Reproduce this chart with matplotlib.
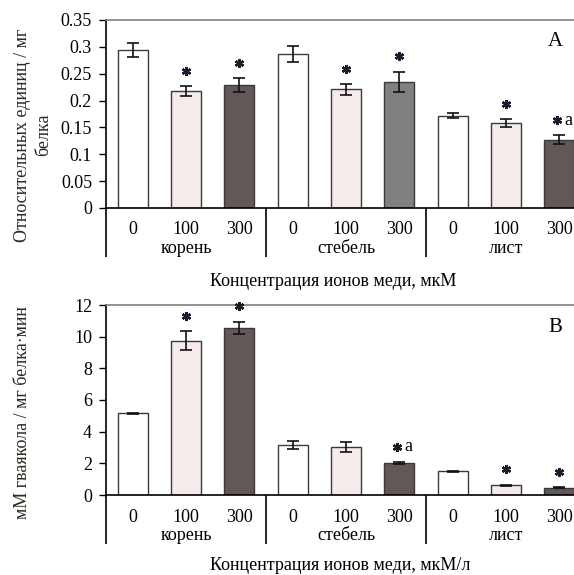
import matplotlib
matplotlib.use("Agg")
import matplotlib.pyplot as plt
import matplotlib.transforms as mtransforms
import numpy as np

plt.rcParams['font.family'] = ['Liberation Serif', 'DejaVu Serif']

# ---------------- data ----------------
conc_labels = ["0", "100", "300"] * 3
organs = ["корень", "стебель", "лист"]

top_values = [0.294, 0.218, 0.229, 0.286, 0.221, 0.235, 0.172, 0.158, 0.127]
top_errors = [0.013, 0.009, 0.013, 0.015, 0.010, 0.019, 0.005, 0.008, 0.008]
top_marks = ["", "*", "*", "", "*", "*", "", "*", "*a"]

bot_values = [5.15, 9.75, 10.57, 3.16, 3.01, 2.02, 1.50, 0.61, 0.46]
bot_errors = [0.05, 0.60, 0.38, 0.28, 0.32, 0.05, 0.03, 0.04, 0.03]
bot_marks = ["", "*", "*", "", "", "*a", "", "*", "*"]

c_white = "#ffffff"
c_pink = "#f5ebea"
c_dark = "#615857"
c_gray = "#808080"
top_colors = [c_white, c_pink, c_dark, c_white, c_pink, c_gray, c_white, c_pink, c_dark]
bot_colors = [c_white, c_pink, c_dark, c_white, c_pink, c_dark, c_white, c_pink, c_dark]

top_ticks = [0, 0.05, 0.1, 0.15, 0.2, 0.25, 0.3, 0.35]
top_ticklabels = ["0", "0.05", "0.1", "0.15", "0.2", "0.25", "0.3", "0.35"]
bot_ticks = [0, 2, 4, 6, 8, 10, 12]
bot_ticklabels = ["0", "2", "4", "6", "8", "10", "12"]

W, H = 574, 575
fig = plt.figure(figsize=(W / 100, H / 100), dpi=100)
FS = 13


def panel(rect, values, errors, colors, marks, ticks, ticklabels, ymax, letter,
          letter_y, xtitle, xtitle_x, xtitle_y, px_h):
    ax = fig.add_axes(rect)
    x = np.arange(len(values))
    ax.bar(x, values, width=0.56, color=colors, edgecolor="#3a3a3a",
           linewidth=1.0, zorder=2)
    ax.errorbar(x, values, yerr=errors, fmt="none", ecolor="#111111",
                elinewidth=1.2, capsize=4, capthick=1.2, zorder=3)
    ax.set_xlim(-0.5, len(values) - 0.5)
    ax.set_ylim(0, ymax)
    ax.set_yticks(ticks)
    ax.set_yticklabels(ticklabels, fontsize=FS)
    ax.tick_params(axis="y", direction="out", length=5, width=1.0, pad=5)
    ax.set_xticks([])
    ax.spines["right"].set_visible(False)
    ax.spines["top"].set_color("#808080")
    ax.spines["top"].set_linewidth(1.2)
    ax.spines["left"].set_linewidth(1.2)
    ax.spines["bottom"].set_linewidth(1.2)

    trans = mtransforms.blended_transform_factory(ax.transData, ax.transAxes)
    for i, lab in enumerate(conc_labels):
        ax.text(i, -22 / px_h, lab, transform=trans, ha="center", va="center",
                fontsize=FS)
    for g, name in enumerate(organs):
        ax.text(3 * g + 1, -40.5 / px_h, name, transform=trans, ha="center",
                va="center", fontsize=FS)
    for xb in [-0.5, 2.5, 5.5]:
        ax.plot([xb, xb], [0, -49 / px_h], transform=trans, color="black",
                lw=1.2, clip_on=False, solid_capstyle="butt")
    for i, m in enumerate(marks):
        if not m:
            continue
        ytop = values[i] + errors[i]
        dx = -1.5 if "a" in m else 0
        off = mtransforms.ScaledTranslation(dx / 72, 11 / 72, fig.dpi_scale_trans)
        ax.plot([i], [ytop], marker=(6, 2, 0), ms=6.5, mew=1.7, color="#1a1a2a",
                transform=ax.transData + off, clip_on=False, zorder=4)
        if "a" in m:
            ax.annotate("a", xy=(i, ytop), xytext=(3.5, 11),
                        textcoords="offset points", ha="left", va="center",
                        fontsize=FS, annotation_clip=False)
    fig.text(555 / W, 1 - letter_y / H, letter, fontsize=15, ha="center",
             va="center")
    fig.text(xtitle_x / W, 1 - xtitle_y / H, xtitle, fontsize=FS, ha="center",
             va="center")
    return ax


top_rect = [106 / W, 1 - 208 / H, 480 / W, 188 / H]
bot_rect = [106 / W, 1 - 495 / H, 480 / W, 190 / H]

panel(top_rect, top_values, top_errors, top_colors, top_marks, top_ticks,
      top_ticklabels, 0.35, "A", 42, "Концентрация ионов меди, мкМ", 333, 282,
      188)
panel(bot_rect, bot_values, bot_errors, bot_colors, bot_marks, bot_ticks,
      bot_ticklabels, 12, "B", 327, "Концентрация ионов меди, мкМ/л", 340, 566,
      190)

fig.text(33 / W, 1 - 135 / H, "Относительных единиц / мг\nбелка", rotation=90,
         ha="center", va="center", fontsize=FS, linespacing=1.3,
         multialignment="center", color="#2a2a20")
fig.text(23 / W, 1 - 413 / H, "мМ гваякола / мг белка·мин", rotation=90,
         ha="center", va="center", fontsize=FS, color="#2a2a20")

fig.savefig("out.png", dpi=100)
